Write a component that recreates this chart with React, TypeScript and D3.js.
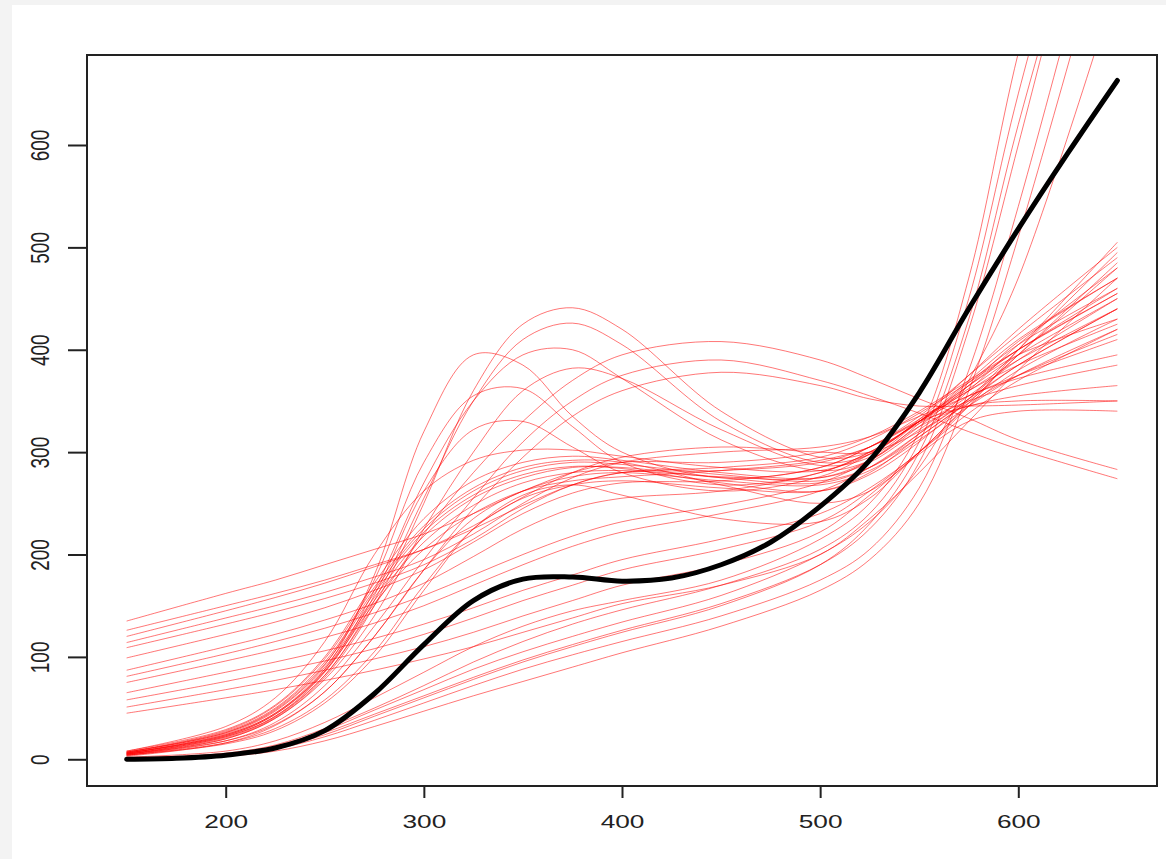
import React, { useEffect, useRef } from "react";
import * as d3 from "d3";

const xGrid = [150, 200, 225, 250, 275, 300, 325, 350, 375, 400, 450, 500, 525, 550, 575, 600, 650];

// steep rise, high peak near 330-375, back into the band
const steepArcs = [
  [6, 24, 45, 88, 180, 320, 395, 385, 335, 300, 275, 285, 305, 335, 375, 415, 490],
  [7, 26, 48, 92, 175, 290, 355, 362, 325, 290, 268, 280, 300, 330, 365, 400, 455],
  [5, 22, 42, 85, 160, 262, 322, 330, 305, 280, 262, 276, 298, 330, 360, 390, 440],
  [4, 20, 40, 80, 150, 250, 360, 425, 441, 420, 340, 295, 300, 330, 370, 410, 470],
  [5, 21, 41, 82, 155, 255, 350, 410, 426, 405, 330, 290, 298, 332, 375, 420, 500],
  [6, 23, 44, 86, 165, 270, 350, 395, 400, 372, 312, 282, 292, 328, 368, 405, 460],
  [5, 20, 40, 78, 140, 225, 300, 360, 382, 372, 322, 287, 295, 330, 365, 395, 430],
];

// broad hump near 450, falling at the right
const plateauArcs = [
  [5, 22, 42, 82, 150, 220, 280, 330, 370, 395, 408, 390, 372, 352, 333, 312, 283],
  [4, 18, 36, 72, 130, 195, 255, 310, 350, 375, 390, 370, 355, 338, 320, 303, 274],
  [3, 16, 33, 66, 120, 185, 245, 295, 335, 360, 378, 365, 352, 345, 345, 346, 350],
];

// steep start, then the dense band around 270-300
const bandCurves = [
  [7, 27, 50, 95, 165, 225, 262, 282, 290, 288, 278, 272, 285, 315, 350, 385, 440],
  [6, 25, 47, 90, 158, 218, 255, 275, 285, 285, 275, 270, 285, 318, 360, 405, 480],
  [8, 29, 53, 100, 172, 235, 272, 290, 296, 292, 280, 275, 290, 322, 355, 390, 450],
  [5, 18, 34, 66, 120, 185, 235, 262, 276, 280, 272, 268, 282, 312, 345, 375, 420],
  [7, 26, 49, 93, 162, 222, 258, 278, 286, 284, 270, 262, 278, 310, 352, 400, 495],
  [6, 24, 45, 88, 155, 212, 248, 270, 280, 282, 276, 275, 292, 325, 365, 408, 470],
  [4, 16, 30, 58, 105, 170, 225, 255, 268, 272, 265, 262, 280, 315, 348, 375, 415],
  [8, 32, 60, 115, 200, 262, 292, 302, 302, 296, 285, 282, 298, 330, 360, 385, 425],
  [6, 23, 44, 86, 152, 205, 240, 262, 272, 276, 282, 292, 305, 330, 355, 372, 395],
  [7, 28, 52, 98, 168, 228, 265, 285, 292, 290, 268, 250, 262, 300, 348, 395, 485],
  [4, 15, 28, 55, 100, 165, 225, 258, 268, 258, 235, 232, 255, 300, 345, 380, 430],
];

// start high on the left and climb slowly
const linearCurves = [
  [135, 162, 175, 190, 205, 220, 240, 262, 280, 290, 290, 300, 315, 340, 370, 400, 455],
  [126, 150, 162, 175, 190, 205, 225, 248, 268, 280, 285, 295, 312, 338, 368, 400, 460],
  [114, 138, 150, 163, 178, 195, 220, 250, 275, 290, 300, 305, 315, 335, 355, 375, 410],
  [109, 132, 144, 157, 172, 190, 215, 245, 268, 280, 282, 290, 305, 330, 345, 355, 365],
  [99, 122, 134, 148, 165, 185, 212, 240, 260, 270, 272, 285, 305, 332, 362, 395, 450],
  [87, 110, 122, 136, 152, 172, 198, 225, 245, 255, 262, 280, 300, 328, 350, 365, 385],
  [81, 103, 115, 128, 143, 160, 180, 200, 218, 232, 248, 270, 292, 325, 345, 350, 350],
  [75, 96, 107, 119, 133, 150, 170, 190, 208, 222, 240, 262, 285, 318, 352, 395, 480],
  [65, 85, 95, 106, 118, 132, 148, 165, 180, 195, 215, 240, 265, 300, 345, 400, 505],
  [58, 76, 86, 96, 108, 122, 138, 155, 170, 185, 205, 232, 262, 300, 338, 370, 420],
  [51, 68, 77, 87, 98, 110, 124, 140, 155, 170, 190, 222, 258, 298, 330, 340, 340],
  [45, 60, 68, 77, 87, 98, 110, 124, 138, 152, 170, 200, 235, 280, 330, 380, 470],
  [120, 145, 158, 172, 188, 205, 228, 256, 280, 295, 305, 300, 300, 320, 352, 385, 440],
];

// stay low, then shoot off the top
const lowCurves = [
  [0, 4, 10, 22, 38, 55, 72, 88, 102, 115, 140, 175, 205, 265, 380, 540, 900],
  [1, 5, 12, 26, 44, 62, 80, 97, 112, 126, 152, 190, 225, 290, 420, 600, 980],
  [0, 3, 8, 18, 32, 47, 62, 76, 90, 104, 130, 165, 195, 250, 360, 510, 850],
  [1, 6, 14, 30, 50, 72, 95, 115, 132, 146, 170, 205, 240, 310, 450, 650, 1000],
  [2, 8, 18, 36, 60, 85, 110, 130, 145, 155, 175, 215, 250, 320, 470, 690, 1050],
  [0, 4, 11, 24, 42, 60, 78, 95, 110, 124, 150, 190, 230, 300, 430, 620, 960],
  [1, 5, 13, 28, 48, 68, 88, 105, 120, 134, 160, 200, 232, 285, 370, 470, 760],
];

// the mean curve
const blackX = [150, 175, 200, 225, 250, 275, 300, 325, 350, 375, 400, 425, 450, 475, 500, 525, 550, 575, 600, 625, 650];
const blackY = [0, 1, 4, 11, 28, 64, 112, 155, 176, 178, 174, 177, 190, 212, 247, 292, 358, 440, 518, 592, 663];

const xTicks = [200, 300, 400, 500, 600];
const yTicks = [0, 100, 200, 300, 400, 500, 600];

const App = () => {
  const svgRef = useRef<SVGSVGElement>(null);
  const svgWidth = 1166;
  const svgHeight = 859;
  const box = { left: 87, right: 1157, top: 55, bottom: 786 };
  const stretch = 1.38; // the source picture is squashed wide

  useEffect(() => {
    const svg = d3.select(svgRef.current);
    svg.selectAll("*").remove();

    svg.append("rect").attr("width", svgWidth).attr("height", svgHeight).attr("fill", "#f3f3f3");
    svg
      .append("rect")
      .attr("x", 12)
      .attr("y", 5)
      .attr("width", svgWidth - 12)
      .attr("height", svgHeight - 5)
      .attr("fill", "#fff");

    const x = d3.scaleLinear().domain([130, 670]).range([box.left, box.right]);
    const y = d3.scaleLinear().domain([-26.1, 687.9]).range([box.bottom, box.top]);

    svg
      .append("defs")
      .append("clipPath")
      .attr("id", "plotClip")
      .append("rect")
      .attr("x", box.left)
      .attr("y", box.top)
      .attr("width", box.right - box.left)
      .attr("height", box.bottom - box.top);

    const line = d3
      .line<[number, number]>()
      .x((d) => x(d[0]))
      .y((d) => y(d[1]))
      .curve(d3.curveCatmullRom.alpha(0.5));

    const redCurves = [...steepArcs, ...plateauArcs, ...bandCurves, ...linearCurves, ...lowCurves];

    const g = svg.append("g").attr("clip-path", "url(#plotClip)");

    g.selectAll("path.red")
      .data(redCurves)
      .enter()
      .append("path")
      .attr("class", "red")
      .attr("d", (ys) => line(ys.map((v, i) => [xGrid[i], v] as [number, number])))
      .attr("fill", "none")
      .attr("stroke", "#ff0000")
      .attr("stroke-opacity", 0.6)
      .attr("stroke-width", 0.9);

    g.append("path")
      .attr("d", line(blackX.map((v, i) => [v, blackY[i]] as [number, number])))
      .attr("fill", "none")
      .attr("stroke", "#000")
      .attr("stroke-width", 5)
      .attr("stroke-linecap", "round");

    // box
    svg
      .append("rect")
      .attr("x", box.left)
      .attr("y", box.top)
      .attr("width", box.right - box.left)
      .attr("height", box.bottom - box.top)
      .attr("fill", "none")
      .attr("stroke", "#222")
      .attr("stroke-width", 2);

    const font = "'Liberation Sans', Arial, Helvetica, sans-serif";

    const xAxisG = svg
      .append("g")
      .attr("transform", `translate(0,${box.bottom})`)
      .call(d3.axisBottom(x).tickValues(xTicks).tickSize(12).tickFormat(d3.format("d")));
    xAxisG.select(".domain").remove();
    xAxisG.selectAll(".tick line").attr("stroke", "#222").attr("stroke-width", 2);
    xAxisG
      .selectAll(".tick text")
      .attr("y", 42)
      .attr("dy", null)
      .attr("transform", `scale(${stretch},1)`)
      .attr("fill", "#222")
      .style("font-family", font)
      .style("font-size", "19px");

    const yAxisG = svg
      .append("g")
      .attr("transform", `translate(${box.left},0)`)
      .call(d3.axisLeft(y).tickValues(yTicks).tickSize(19).tickFormat(d3.format("d")));
    yAxisG.select(".domain").remove();
    yAxisG.selectAll(".tick line").attr("stroke", "#222").attr("stroke-width", 2);
    yAxisG
      .selectAll(".tick text")
      .attr("x", 0)
      .attr("y", 0)
      .attr("dy", null)
      .attr("text-anchor", "middle")
      .attr("transform", `translate(-38,0) scale(${stretch},1) rotate(-90)`)
      .attr("fill", "#222")
      .style("font-family", font)
      .style("font-size", "19px");
  }, []);

  return (
    <svg
      ref={svgRef}
      width={svgWidth}
      height={svgHeight}
      style={{ position: "absolute", left: 0, top: 0 }}
    ></svg>
  );
};

export default App;
